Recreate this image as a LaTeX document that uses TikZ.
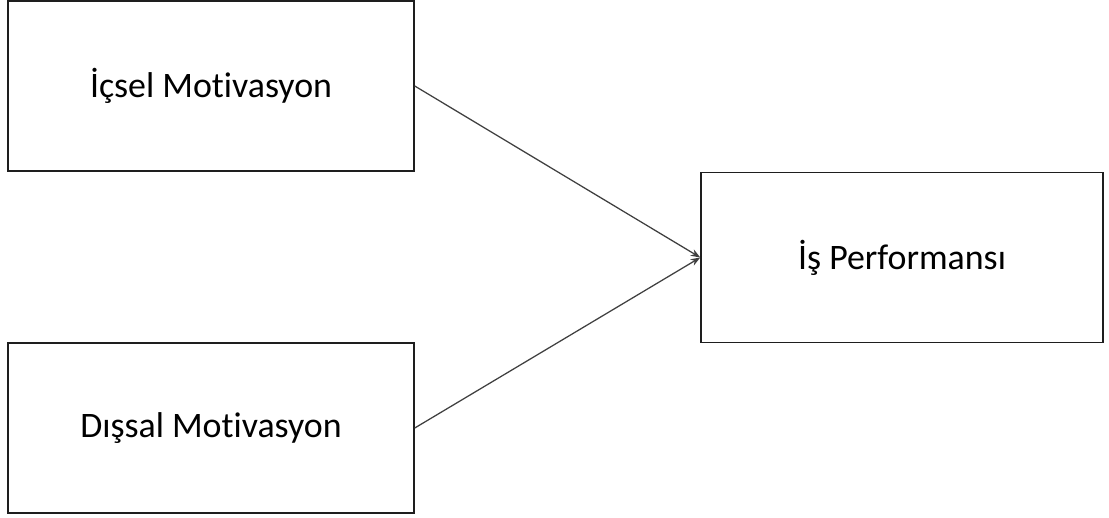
\documentclass[tikz,border=0pt]{standalone}
\usepackage{fontspec}
\setmainfont[Ligatures=NoCommon]{Carlito}
\usetikzlibrary{arrows.meta,positioning}
\definecolor{ink}{RGB}{30,30,30}
\tikzset{
  >={Stealth[length=2.4mm,width=1.8mm]},
  box/.style={draw=ink,line width=1pt,minimum width=#1,minimum height=4.25cm,
    align=center,font=\fontsize{25.5}{30}\selectfont,inner sep=0pt},
  box/.default=10.15cm,
  flow/.style={->,line width=0.9pt,draw=ink!85},
}
\begin{document}
\begin{tikzpicture}[x=0.025cm,y=-0.025cm]
  \useasboundingbox (0,0) rectangle (1109,518);
  \node[box] (icsel) at (211,86) {İçsel Motivasyon};
  \node[box] (dissal) at (211,428) {Dışsal Motivasyon};
  \node[box=10.05cm] (perf) at (902,257.5) {İş Performansı};
  \draw[flow] (icsel.east) -- (perf.west);
  \draw[flow] (dissal.east) -- (perf.west);
\end{tikzpicture}
\end{document}
